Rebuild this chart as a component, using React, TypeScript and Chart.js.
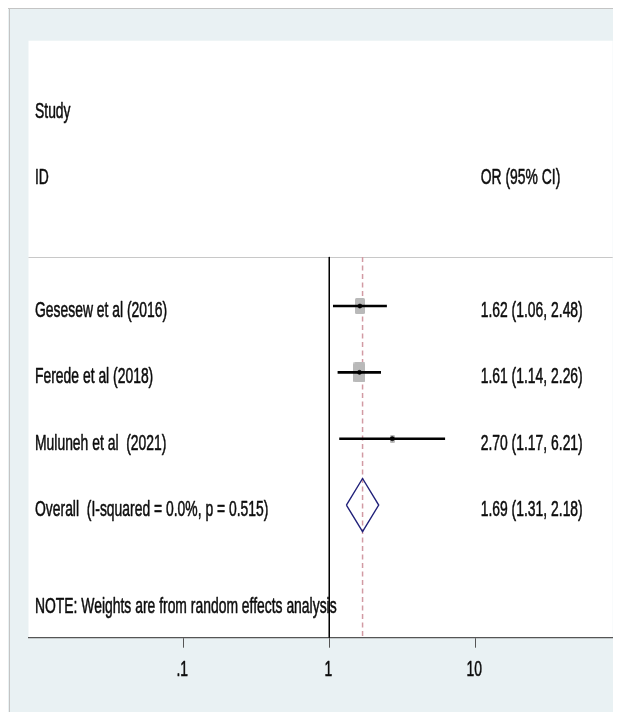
import React, { useEffect, useRef } from "react";
import { Chart, registerables } from "chart.js";

Chart.register(...registerables);

// ---- data ----
const studies = ["Gesesew et al (2016)", "Ferede et al (2018)", "Muluneh et al  (2021)"];
const orValues = [1.62, 1.61, 2.7];
const lowerCI = [1.06, 1.14, 1.17];
const upperCI = [2.48, 2.26, 6.21];
const weights = [35.6, 54.9, 9.2];
const studyRows = [4, 5, 6];

const overallLabel = "Overall  (I-squared = 0.0%, p = 0.515)";
const overallOR = [1.69];
const overallLower = [1.31];
const overallUpper = [2.18];
const overallRow = 7;

const headerLeft = ["Study", "ID"];
const headerRows = [1, 2];
const headerRight = "OR (95% CI)";
const noteText = "NOTE: Weights are from random effects analysis";
const noteRow = 8.47;
const separatorRow = 3.26;

const tickValues = [0.1, 1, 10];
const tickLabels = [".1", "1", "10"];

// ---- style constants ----
const W = 613;
const H = 704;
const BG = "#E9F1F3";
const FONT = '22px "Liberation Sans", Arial, sans-serif';
const SX = 0.632;
const TEXT_DROP = 10.9;

function fmt(v: number) {
  return v.toFixed(2);
}

function makeBox(w: number): HTMLCanvasElement {
  const h = 2.7 * Math.sqrt(w);
  const bw = 0.62 * h;
  const c = document.createElement("canvas");
  c.width = Math.max(2, Math.round(bw));
  c.height = Math.max(2, Math.round(h));
  const g = c.getContext("2d")!;
  g.fillStyle = "#B9B9B9";
  const r = 1.5;
  g.beginPath();
  g.moveTo(r, 0);
  g.lineTo(c.width - r, 0);
  g.quadraticCurveTo(c.width, 0, c.width, r);
  g.lineTo(c.width, c.height - r);
  g.quadraticCurveTo(c.width, c.height, c.width - r, c.height);
  g.lineTo(r, c.height);
  g.quadraticCurveTo(0, c.height, 0, c.height - r);
  g.lineTo(0, r);
  g.quadraticCurveTo(0, 0, r, 0);
  g.fill();
  return c;
}

function drawText(ctx: CanvasRenderingContext2D, text: string, x: number, y: number, align: CanvasTextAlign) {
  ctx.save();
  ctx.translate(x, y);
  ctx.scale(SX, 1);
  ctx.font = FONT;
  ctx.fillStyle = "#0d0d0d";
  ctx.strokeStyle = "#0d0d0d";
  ctx.lineWidth = 0.55;
  ctx.lineJoin = "round";
  ctx.textAlign = align;
  ctx.textBaseline = "alphabetic";
  ctx.fillText(text, 0, 0);
  ctx.strokeText(text, 0, 0);
  ctx.restore();
}

const forestPlugin = {
  id: "forestDecor",
  beforeDraw(chart: any) {
    const { ctx, chartArea } = chart;
    ctx.save();
    ctx.fillStyle = BG;
    ctx.fillRect(0, 0, chart.width, chart.height);
    ctx.fillStyle = "#C4C4C4";
    ctx.fillRect(0, 0, chart.width, 1);
    ctx.fillRect(1, 0, 1, chart.height);
    ctx.fillStyle = "#FFFFFF";
    ctx.fillRect(chartArea.left, chartArea.top, chartArea.right - chartArea.left, chartArea.bottom - chartArea.top);
    ctx.restore();
  },
  beforeDatasetsDraw(chart: any) {
    const { ctx, chartArea, scales } = chart;
    const y = Math.round(scales.y.getPixelForValue(separatorRow)) + 0.5;
    ctx.save();
    ctx.strokeStyle = "#C8C8C8";
    ctx.lineWidth = 1.2;
    ctx.beginPath();
    ctx.moveTo(chartArea.left, y);
    ctx.lineTo(chartArea.right, y);
    ctx.stroke();
    ctx.restore();
  },
  afterDraw(chart: any) {
    const { ctx, chartArea, scales } = chart;
    const ys = scales.y;
    const xs = scales.x;
    const leftX = chartArea.left + 6.5;
    const rightX = chartArea.right - 132;
    headerLeft.forEach((t, i) => drawText(ctx, t, leftX, ys.getPixelForValue(headerRows[i]) + TEXT_DROP, "left"));
    drawText(ctx, headerRight, rightX, ys.getPixelForValue(headerRows[1]) + TEXT_DROP, "left");
    studies.forEach((s, i) => {
      const y = ys.getPixelForValue(studyRows[i]) + TEXT_DROP;
      drawText(ctx, s, leftX, y, "left");
      drawText(ctx, `${fmt(orValues[i])} (${fmt(lowerCI[i])}, ${fmt(upperCI[i])})`, rightX, y, "left");
    });
    const oy = ys.getPixelForValue(overallRow) + TEXT_DROP;
    drawText(ctx, overallLabel, leftX, oy, "left");
    drawText(ctx, `${fmt(overallOR[0])} (${fmt(overallLower[0])}, ${fmt(overallUpper[0])})`, rightX, oy, "left");
    drawText(ctx, noteText, leftX, ys.getPixelForValue(noteRow) + TEXT_DROP, "left");
    tickValues.forEach((v, i) => {
      drawText(ctx, tickLabels[i], xs.getPixelForValue(v) - 1, chartArea.bottom + 38.5, "center");
    });
  },
};

export default function App() {
  const ref = useRef<HTMLCanvasElement | null>(null);

  useEffect(() => {
    if (!ref.current) return;
    const datasets: any[] = [];

    // reference lines (null line and overall estimate)
    datasets.push({
      type: "line",
      data: [{ x: 1, y: separatorRow }, { x: 1, y: 9 }],
      borderColor: "#000000",
      borderWidth: 1,
      pointRadius: 0,
      order: 10,
    });
    datasets.push({
      type: "line",
      data: [{ x: overallOR[0], y: separatorRow }, { x: overallOR[0], y: 9 }],
      borderColor: "#D29AA3",
      borderWidth: 1.5,
      borderDash: [5, 3.5],
      pointRadius: 0,
      order: 9,
    });
    // weight boxes
    datasets.push({
      type: "scatter",
      data: orValues.map((v, i) => ({ x: v, y: studyRows[i] })),
      pointStyle: weights.map((w) => makeBox(w)),
      pointRadius: 6,
      order: 8,
    });
    // confidence interval lines
    studies.forEach((_, i) => {
      datasets.push({
        type: "line",
        data: [{ x: lowerCI[i], y: studyRows[i] }, { x: upperCI[i], y: studyRows[i] }],
        borderColor: "#000000",
        borderWidth: 2.6,
        pointRadius: 0,
        order: 7,
      });
    });
    // point estimates
    datasets.push({
      type: "scatter",
      data: orValues.map((v, i) => ({ x: v, y: studyRows[i] })),
      pointStyle: "circle",
      pointRadius: 2.1,
      backgroundColor: "#000000",
      borderColor: "#000000",
      borderWidth: 0.5,
      order: 6,
    });
    // overall diamond
    datasets.push({
      type: "line",
      data: [
        { x: overallLower[0], y: overallRow },
        { x: overallOR[0], y: overallRow - 0.4 },
        { x: overallUpper[0], y: overallRow },
        { x: overallOR[0], y: overallRow + 0.4 },
        { x: overallLower[0], y: overallRow },
      ],
      borderColor: "#22227A",
      borderWidth: 1.4,
      pointRadius: 0,
      tension: 0,
      fill: false,
      order: 5,
    });

    const chart = new Chart(ref.current, {
      type: "line",
      data: { datasets },
      options: {
        responsive: false,
        animation: false,
        events: [],
        layout: { padding: { left: 20.5, right: 8.3, top: 32.7, bottom: 64.3 } },
        plugins: { legend: { display: false }, tooltip: { enabled: false } },
        scales: {
          x: {
            type: "logarithmic",
            min: Math.pow(10, -2.06),
            max: Math.pow(10, 1.941),
            afterBuildTicks: (scale: any) => {
              scale.ticks = tickValues.map((v) => ({ value: v }));
            },
            ticks: { display: false },
            grid: {
              display: true,
              drawOnChartArea: false,
              drawTicks: true,
              tickLength: 10,
              color: "#555555",
              lineWidth: 1,
            },
            border: { display: true, color: "#555555", width: 1.2 },
          },
          y: {
            type: "linear",
            min: 0,
            max: 9,
            reverse: true,
            display: false,
          },
        },
      },
      plugins: [forestPlugin],
    } as any);

    return () => chart.destroy();
  }, []);

  return <canvas ref={ref} width={W} height={H} style={{ display: "block", width: W, height: H }} />;
}
